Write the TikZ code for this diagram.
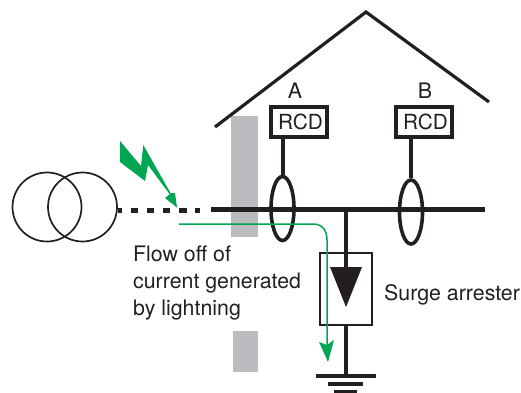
\documentclass[tikz,border=0pt]{standalone}
\usepackage{fontspec}
\setmainfont{TeX Gyre Heros}
\usetikzlibrary{shapes.geometric}
\definecolor{ink}{HTML}{231F20}
\definecolor{bolt}{HTML}{00A651}
\definecolor{wallgrey}{HTML}{BBBCBF}
\tikzset{
  lbl/.style={inner sep=0pt,anchor=base,text=ink,font=\fontsize{21.35}{27}\selectfont},
  rcdbox/.style={draw=ink,line width=4.4pt,fill=white,minimum width=56pt,minimum height=30pt,inner sep=0pt,text=ink,font=\fontsize{20.8}{24}\selectfont},
  coil/.style={draw=ink,line width=1.7pt,circle,minimum size=69pt,inner sep=0pt},
  sensor/.style={draw=ink,line width=3.6pt,ellipse,minimum width=23pt,minimum height=64pt,inner sep=0pt},
  wall/.style={fill=wallgrey,draw=none},
  wire/.style={draw=ink,line width=4pt},
  greenline/.style={draw=bolt,line width=1.5pt},
  greenfill/.style={fill=bolt,draw=none}
}
\begin{document}
\begin{tikzpicture}[x=1pt,y=-1pt]
\useasboundingbox (0,0) rectangle (521,392);
% walls
\fill[wall] (231,116) rectangle (258,237);
\fill[wall] (233,331) rectangle (258,372);
% roof
\draw[draw=ink,line width=3.2pt,miter limit=10] (215,127) -- (366,12) -- (489,102);
% transformer
\node[coil] (t1) at (47,207) {};
\node[coil] (t2) at (82.5,207) {};
% RCD
\node[rcdbox] (rcdA) at (299,122) {\hspace{3pt}RCD};
\node[rcdbox] (rcdB) at (424,122) {\hspace{3pt}RCD};
\node[lbl] (labA) at (295,98) {A};
\node[lbl] (labB) at (425,98) {B};
% bus
\coordinate (busL) at (211,209);
\coordinate (busR) at (485,209);
\coordinate (dashS) at (t2.east |- 0,210);
\coordinate (dashE) at (200,210);
\draw[draw=ink,line width=5pt,dash pattern=on 7.5pt off 8.7pt,dash phase=3.5pt] (dashS) -- (dashE);
\draw[draw=ink,line width=5pt] (busL) -- (busR);
% sensors
\node[sensor] (sA) at (282.5,208.5) {};
\node[sensor] (sB) at (411,212) {};
\draw[wire] (rcdA.south -| sA.north) -- (sA.north);
\draw[wire] (rcdB.south -| sB.north) -- (sB.north);
% arrester
\node[draw=ink,line width=2.2pt,minimum width=52pt,minimum height=72pt,inner sep=0pt] (arr) at (346,289) {};
\node[lbl,anchor=base west] (surge) at (384,300.5) {Surge arrester};
\coordinate (tap) at (346,209);
\coordinate (triTop) at (346,267);
\draw[wire] (tap) -- (triTop);
\fill[ink] (330,267) -- (362,267) -- (346,307) -- cycle;
% ground
\coordinate (g1) at (346,376);
\draw[wire] (arr.south) -- (g1);
\draw[draw=ink,line width=3.4pt] (316,376) -- (376,376);
\draw[draw=ink,line width=3.4pt] (327.5,384) -- (362.5,384);
\draw[draw=ink,line width=3pt] (334,391) -- (357,391);
% flow text
\node[lbl,anchor=north west,align=left] (flow) at (133,246) {Flow off of\\current generated\\by lightning};
% lightning
\fill[greenfill] (120,141) -- (141,166) -- (143.3,145) -- (170.5,193) -- (175,193) -- (177,207.5) -- (165,198) -- (169.7,194.2) -- (148,165) -- (145,181) -- (120,162) -- cycle;
% green current
\coordinate (gs) at (179,224);
\coordinate (ge) at (327,346);
\draw[greenline] (gs) -- (313,224) .. controls (322,224) and (327,230) .. (327,240) -- (ge);
\fill[greenfill] (319,342) -- (327,345) -- (334,340) -- (328,362) -- cycle;
\end{tikzpicture}
\end{document}
